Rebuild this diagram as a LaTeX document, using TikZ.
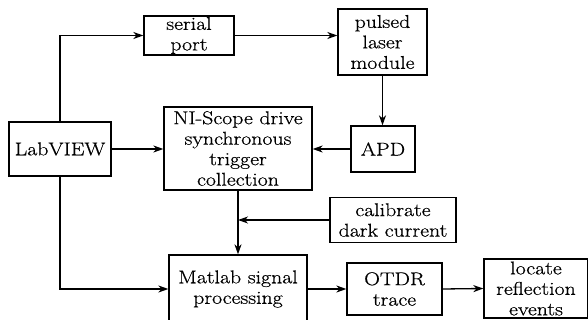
\documentclass[tikz,border=0pt]{standalone}
\usepackage{fontspec}
\setmainfont{Latin Modern Roman}[FakeStretch=1.18,FakeBold=0.6]
\usetikzlibrary{arrows.meta}
\begin{document}
\begin{tikzpicture}[x=1pt,y=-1pt,
  box/.style={draw,line width=1.3pt,inner sep=0pt,align=center,font=\fontsize{18.5}{20.5}\selectfont},
  conn/.style={line width=1.3pt,-{Stealth[length=10pt,width=7pt,inset=3pt]}},
  plain/.style={line width=1.3pt}]
\useasboundingbox (0,0) rectangle (588,320);
\node[box,minimum width=90pt,minimum height=39pt] (serial) at (189,35.5) {serial\\port};
\node[box,minimum width=89pt,minimum height=66pt] (pulsed) at (382.5,42) {pulsed\\laser\\module};
\node[box,minimum width=102pt,minimum height=54pt] (lab) at (60,149) {LabVIEW};
\node[box,minimum width=148pt,minimum height=83pt] (ni) at (238,148.5) {NI-Scope drive\\synchronous\\trigger\\collection};
\node[box,minimum width=64pt,minimum height=46pt] (apd) at (383,149) {APD};
\node[box,minimum width=126pt,minimum height=45pt] (cal) at (393,220) {calibrate\\dark current};
\node[box,minimum width=138pt,minimum height=68pt] (mat) at (238,289) {Matlab signal\\processing};
\node[box,minimum width=95pt,minimum height=52pt] (otdr) at (394.5,289) {OTDR\\trace};
\node[box,minimum width=104pt,minimum height=59pt] (loc) at (536,288.5) {locate\\reflection\\events};
\coordinate (join) at (cal.west -| ni.south);
\draw[conn] (lab.north) |- (serial.west);
\draw[conn] (serial.east) -- (serial.east -| pulsed.west);
\draw[conn] (pulsed.south) -- (pulsed.south |- apd.north);
\draw[conn] (apd.west) -- (apd.west -| ni.east);
\draw[conn] (lab.east) -- (lab.east -| ni.west);
\draw[conn] (ni.south) -- (mat.north);
\draw[conn] (cal.west) -- (join);
\draw[conn] (lab.south) |- (mat.west);
\draw[conn] (mat.east) -- (otdr.west);
\draw[conn] (otdr.east) -- (loc.west);
\end{tikzpicture}
\end{document}
